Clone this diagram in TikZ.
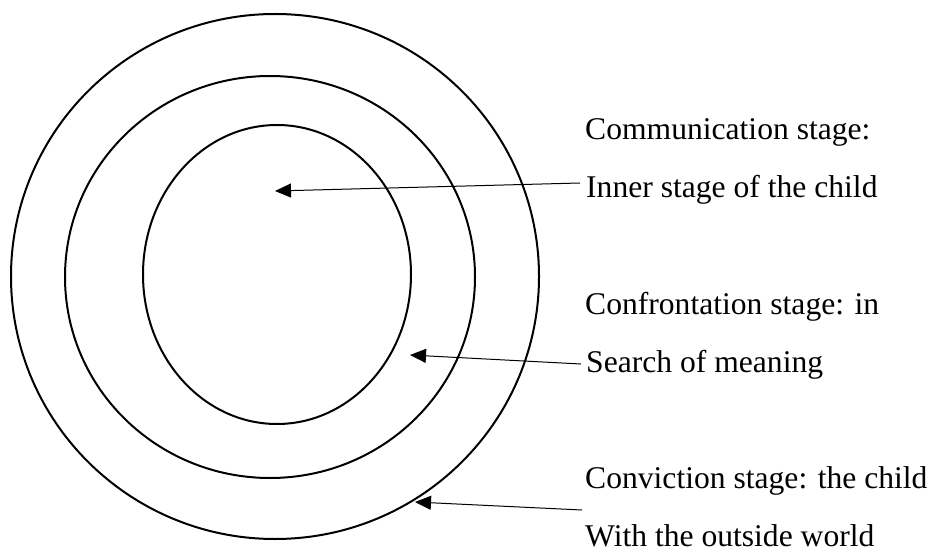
\documentclass[tikz,border=0pt]{standalone}
\usepackage{fontspec}
\setmainfont{Liberation Serif}
\usetikzlibrary{arrows.meta,shapes.geometric}
\begin{document}
\begin{tikzpicture}[x=1pt,y=-1pt,
  ringshape/.style={draw=black,line width=2pt,ellipse,inner sep=0pt,outer sep=0pt},
  stagetext/.style={anchor=base west,inner sep=0pt,font=\fontsize{31.6}{38}\selectfont},
  stagearrow/.style={draw=black,line width=1pt,-{Triangle[length=16pt,width=14pt]}}]
\useasboundingbox (0,0) rectangle (934,548);
% rings
\node[ringshape,minimum width=528pt,minimum height=525pt] (outer) at (275,276.5) {};
\node[ringshape,minimum width=410pt,minimum height=402pt] (middle) at (270,277) {};
\node[ringshape,minimum width=268pt,minimum height=299pt] (inner) at (277,274.5) {};
% texts
\node[stagetext] (t1) at (585,140) {Communication stage:};
\node[stagetext] (t2) at (586,198) {Inner stage of the child};
\node[stagetext] (t3) at (585,314) {Confrontation stage: in};
\node[stagetext] (t4) at (586,372) {Search of meaning};
\node[stagetext] (t5) at (585,488) {Conviction stage: the child};
\node[stagetext] (t6) at (585,546) {With the outside world};
% arrow end points
\coordinate (a1s) at (580,183);
\coordinate (a1e) at (275,191);
\coordinate (a2s) at (581,364);
\coordinate (a2e) at (410,355);
\coordinate (a3s) at (582,510);
\coordinate (a3e) at (415,502);
\draw[stagearrow] (a1s) -- (a1e);
\draw[stagearrow] (a2s) -- (a2e);
\draw[stagearrow] (a3s) -- (a3e);
\end{tikzpicture}
\end{document}
